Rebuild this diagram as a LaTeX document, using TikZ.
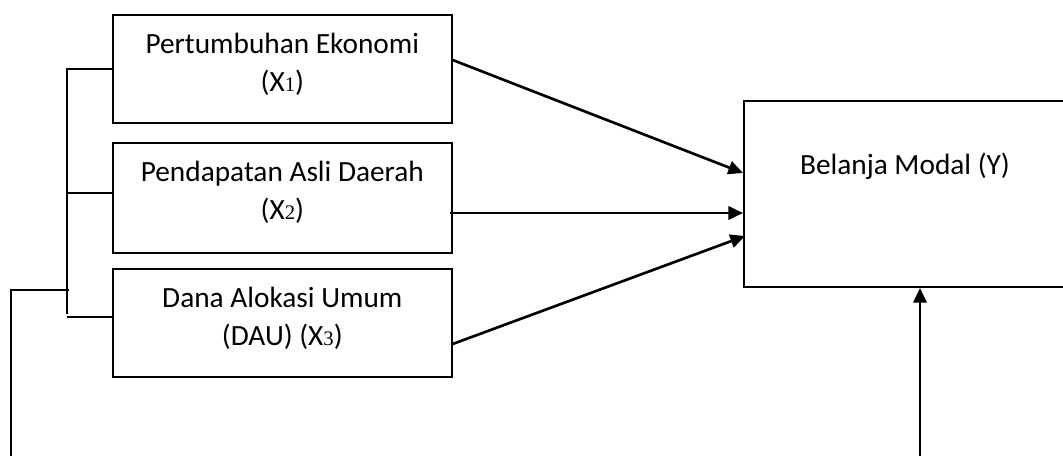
\documentclass[tikz,border=0pt]{standalone}
\usepackage{fontspec}
\setmainfont{Carlito}
\newfontfamily\digitfont{Liberation Serif}
\usetikzlibrary{arrows.meta}
\newcommand{\indeks}[1]{{\digitfont\fontsize{15.5}{15.5}\selectfont #1}}
\tikzset{
  kotak/.style={draw, line width=1.5pt, minimum width=254pt, anchor=north west, inner sep=0pt},
  teks/.style={align=center, font=\fontsize{22}{28.5}\selectfont},
  panah/.style={line width=2pt, -{Triangle[length=11pt,width=10pt]}},
  garis/.style={line width=1.5pt},
}
\begin{document}
\begin{tikzpicture}[x=0.75pt, y=-0.75pt]
    \useasboundingbox (0,0) rectangle (1063,456);
    \clip (0,0) rectangle (1063,456);
    % variabel bebas
    \node[kotak, minimum height=81pt] (x1) at (112,14) {};
    \node[teks] (x1t) at ([yshift=3.75pt]x1.center) {Pertumbuhan Ekonomi\\(X\indeks{1})};
    \node[kotak, minimum height=82.5pt] (x2) at (112,142) {};
    \node[teks] (x2t) at ([yshift=4.5pt]x2.center) {Pendapatan Asli Daerah\\(X\indeks{2})};
    \node[kotak, minimum height=81pt] (x3) at (112,268) {};
    \node[teks] (x3t) at ([yshift=3.75pt]x3.center) {Dana Alokasi Umum\\(DAU) (X\indeks{3})};
    % variabel terikat
    \node[kotak, minimum width=300pt, minimum height=139.5pt] (y) at (743,100) {};
    \node[teks] (yt) at (905,166) {Belanja Modal (Y)};
    % panah ke Y
    \draw[panah] ([yshift=6.75pt]x1.east) -- ([yshift=15.75pt]y.west);
    \draw[panah] ([xshift=-2.25pt,yshift=-11.25pt]x2.east) -- ([yshift=-14.25pt]y.west);
    \draw[panah] ([yshift=-15.75pt]x3.east) -- ([xshift=1.5pt,yshift=-31.5pt]y.west);
    % panah dari bawah
    \coordinate (bawah) at (920,462);
    \draw[panah] (bawah) -- (bawah |- y.south);
    % kurung kiri
    \draw[garis] (x1.west) -- ++(-45,0) coordinate (k1) -- (k1 |- 0,314);
    \draw[garis] ([yshift=3.75pt]x2.west) -- ++(-45,0);
    \draw[garis] ([yshift=4.5pt]x3.west) -- ++(-45,0);
    \coordinate (kb) at (11,462);
    \coordinate (kt) at (69,290);
    \draw[garis] (kb) |- (kt);
\end{tikzpicture}
\end{document}
